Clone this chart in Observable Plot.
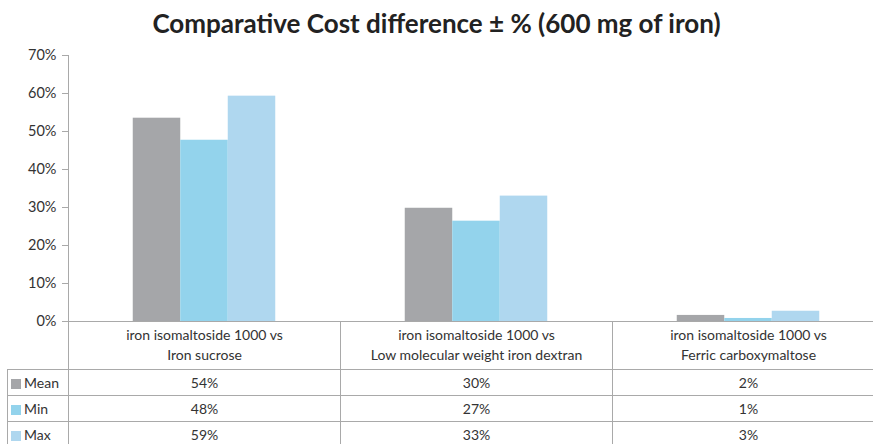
<!DOCTYPE html>
<html>
<head>
<meta charset="utf-8">
<script src="https://cdn.jsdelivr.net/npm/d3@7"></script>
<script src="https://cdn.jsdelivr.net/npm/@observablehq/plot@0.6"></script>
<style>
  html, body { margin: 0; padding: 0; background: #fff; width: 873px; height: 444px; overflow: hidden; }
  body { position: relative; font-family: Lato, "Open Sans", sans-serif; }
  #title { position: absolute; left: 0; top: 10px; width: 873px; text-align: center; font-weight: bold; font-size: 26px; line-height: 26px; color: #222; white-space: nowrap; }
  #chart { position: absolute; left: 0; top: 0; }
  #tbl { position: absolute; left: 7px; top: 321px; border-collapse: collapse; table-layout: fixed; width: 877px; font-size: 14px; color: #333; }
  #tbl td { border: 1px solid #a9a9a9; padding: 0; text-align: center; }
  #tbl tr.cat td { height: 48px; line-height: 20px; border-top: none; }
  #tbl tr.cat td.blank { border: none; border-right: 1px solid #a9a9a9; }
  #tbl tr.val td { height: 25px; line-height: 25px; }
  #tbl td.lab { text-align: left; padding-left: 3px; }
  .sw { display: inline-block; width: 10px; height: 10px; margin-right: 3px; vertical-align: -1px; }
</style>
</head>
<body>
<div id="title"></div>
<div id="chart"></div>
<table id="tbl"></table>
<script>
// ---- data ----
const titleText = "Comparative Cost difference \u00b1 % (600 mg of iron)";
const categories = [
  "iron isomaltoside 1000 vs\nIron sucrose",
  "iron isomaltoside 1000 vs\nLow molecular weight iron dextran",
  "iron isomaltoside 1000 vs\nFerric carboxymaltose"
];
const series = ["Mean", "Min", "Max"];
const meanValues = [0.535, 0.298, 0.016];
const minValues  = [0.477, 0.264, 0.008];
const maxValues  = [0.593, 0.330, 0.027];
const meanLabels = ["54%", "30%", "2%"];
const minLabels  = ["48%", "27%", "1%"];
const maxLabels  = ["59%", "33%", "3%"];
const yTicks = [0, 0.1, 0.2, 0.3, 0.4, 0.5, 0.6, 0.7];
const colors = ["#a5a6a9", "#93d3ec", "#afd7ef"];

// ---- build ----
document.getElementById("title").textContent = titleText;

const valuesBySeries = [meanValues, minValues, maxValues];
const labelsBySeries = [meanLabels, minLabels, maxLabels];
const rows = [];
series.forEach((s, si) => categories.forEach((c, ci) => rows.push({series: s, category: c, value: valuesBySeries[si][ci]})));

const gray = "#a9a9a9";
const barW = 47.5;
const bandW = 272;
const inset = (bandW - barW) / 2;
const offsets = {Mean: -barW, Min: 0, Max: barW};

const chart = Plot.plot({
  width: 873,
  height: 322,
  marginTop: 55,
  marginBottom: 1,
  marginLeft: 68,
  marginRight: 873 - 68 - 3 * bandW,
  style: {fontFamily: "Lato, 'Open Sans', sans-serif", fontSize: "14.5px", color: "#333", background: "transparent", overflow: "visible"},
  x: {domain: categories, padding: 0, axis: null},
  y: {domain: [0, 0.7], axis: null},
  color: {domain: series, range: colors},
  marks: [
    ...series.map(s => Plot.barY(rows.filter(d => d.series === s), {
      x: "category", y: "value", fill: "series", dx: offsets[s], insetLeft: inset, insetRight: inset
    })),
    Plot.axisY(yTicks, {tickFormat: d3.format(".0%"), tickSize: 6, tickPadding: 6, stroke: gray, fill: "#333", fontSize: 14.5, label: null}),
    Plot.frame({anchor: "left", stroke: gray}),
    Plot.ruleY([0], {stroke: gray})
  ]
});
document.getElementById("chart").appendChild(chart);

// table
const tbl = document.getElementById("tbl");
const colgroup = document.createElement("colgroup");
[61, bandW, bandW, bandW].forEach(w => { const c = document.createElement("col"); c.style.width = w + "px"; colgroup.appendChild(c); });
tbl.appendChild(colgroup);
const catRow = document.createElement("tr");
catRow.className = "cat";
const blank = document.createElement("td"); blank.className = "blank"; catRow.appendChild(blank);
categories.forEach(c => {
  const td = document.createElement("td");
  c.split("\n").forEach((line, i) => { if (i) td.appendChild(document.createElement("br")); td.appendChild(document.createTextNode(line)); });
  catRow.appendChild(td);
});
tbl.appendChild(catRow);
series.forEach((s, si) => {
  const tr = document.createElement("tr"); tr.className = "val";
  const lab = document.createElement("td"); lab.className = "lab";
  const sw = document.createElement("span"); sw.className = "sw"; sw.style.background = colors[si];
  lab.appendChild(sw); lab.appendChild(document.createTextNode(s));
  tr.appendChild(lab);
  labelsBySeries[si].forEach(v => { const td = document.createElement("td"); td.textContent = v; tr.appendChild(td); });
  tbl.appendChild(tr);
});
</script>
</body>
</html>
